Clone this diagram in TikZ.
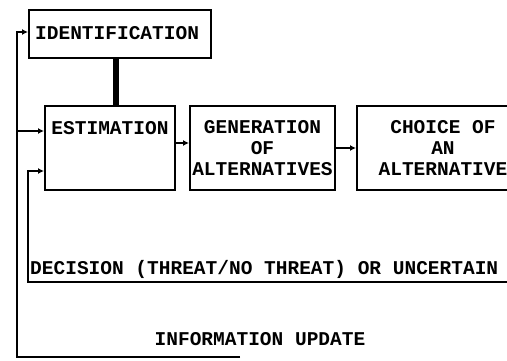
\documentclass[tikz,border=0pt]{standalone}
\usepackage{fontspec}
\newfontfamily\twfont{Liberation Mono}
\usetikzlibrary{arrows.meta}
\tikzset{
  box/.style={draw, line width=2pt, rectangle, inner sep=0pt},
  lbl/.style={font=\twfont\bfseries\fontsize{19.5}{21}\selectfont, inner sep=0pt},
  wire/.style={line width=2pt},
  arr/.style={line width=2pt, -{Latex[length=6pt,width=6pt]}},
  thick bar/.style={line width=6pt}
}
\begin{document}
\begin{tikzpicture}[x=1pt,y=-1pt]
\useasboundingbox (0,0) rectangle (507,360);
\clip (0,0) rectangle (507,360);
\fill[white] (0,0) rectangle (507,360);
% boxes
\node[box, minimum width=182pt, minimum height=48pt] (id) at (120,34) {};
\node[lbl, anchor=west] (idt) at (35,33) {IDENTIFICATION};
\node[box, minimum width=130pt, minimum height=84pt] (est) at (110,148) {};
\node[lbl] (estt) at (110,128) {ESTIMATION};
\node[box, minimum width=145pt, minimum height=84pt] (gen) at (262.5,148) {};
\node[lbl, align=center] (gent) at (262.5,148) {GENERATION\\OF\\ALTERNATIVES};
\node[box, minimum width=170pt, minimum height=84pt] (cho) at (442,148) {};
\node[lbl, align=center] (chot) at (443,148) {CHOICE OF\\AN\\ALTERNATIVE};
% texts
\node[lbl, anchor=west] (dec) at (30,269) {DECISION (THREAT/NO THREAT) OR UNCERTAIN};
\node[lbl] (upd) at (260,339) {INFORMATION UPDATE};
% thick connector
\draw[thick bar] (id.south -| 116,0) -- (est.north -| 116,0);
% forward arrows
\draw[arr] ([yshift=5pt]est.east) -- ([yshift=5pt]gen.west);
\draw[arr] (gen.east) -- (cho.west);
% outer feedback loop
\coordinate (o1) at (240,357);
\coordinate (o2) at (17,357);
\coordinate (o3) at (17,32);
\coordinate (b1) at (17,131);
\draw[arr] (o1) -- (o2) -- (o3) -- (o3 -| id.west);
\draw[arr] (b1) -- (b1 -| est.west);
% inner feedback loop
\coordinate (i1) at (520,282);
\coordinate (i2) at (28,282);
\coordinate (i3) at (28,171);
\draw[arr] (i1) -- (i2) -- (i3) -- (i3 -| est.west);
\end{tikzpicture}
\end{document}
